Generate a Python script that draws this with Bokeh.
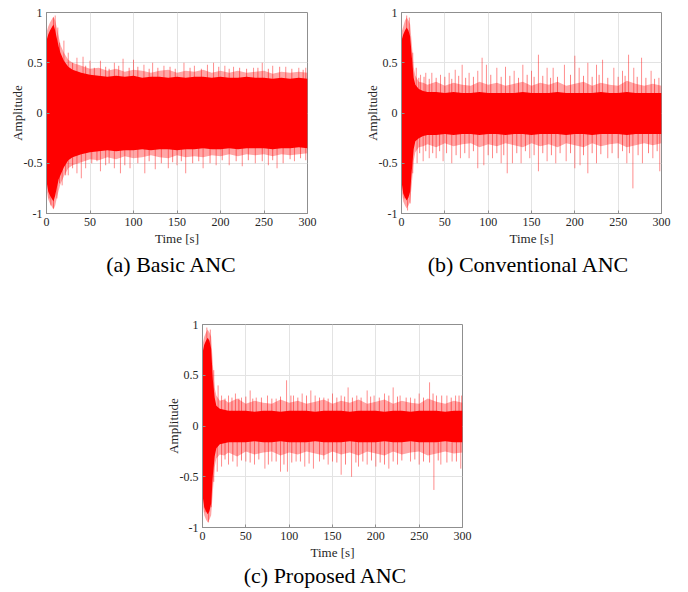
from bokeh.plotting import figure
from bokeh.layouts import column, row
from bokeh.models import Range1d, FixedTicker, Spacer, Div
from bokeh.embed import file_html
from bokeh.resources import INLINE

# ---------------- data ----------------
T = [0, 2, 4, 6, 8, 10, 12, 14, 16, 20, 25, 30, 40, 50, 60, 70, 80, 90, 100, 110,
     120, 130, 140, 150, 160, 170, 180, 190, 200, 210, 220, 230, 240, 250, 260, 270,
     280, 290, 300]

# (a) Basic ANC
a_core_hi = [0.72, 0.78, 0.82, 0.85, 0.88, 0.82, 0.74, 0.66, 0.60, 0.52, 0.46, 0.43, 0.40, 0.38, 0.37, 0.36, 0.37, 0.36, 0.37, 0.35,
             0.36, 0.36, 0.35, 0.36, 0.35, 0.36, 0.36, 0.35, 0.36, 0.35, 0.35, 0.36, 0.35, 0.35, 0.34, 0.35, 0.34, 0.35, 0.34]
a_core_lo = [-0.68, -0.78, -0.82, -0.85, -0.88, -0.82, -0.74, -0.66, -0.62, -0.54, -0.47, -0.44, -0.41, -0.39, -0.38, -0.37, -0.38, -0.37, -0.37, -0.36,
             -0.37, -0.36, -0.36, -0.37, -0.36, -0.36, -0.35, -0.36, -0.36, -0.35, -0.36, -0.35, -0.35, -0.35, -0.36, -0.35, -0.35, -0.34, -0.35]
a_frg_hi = [0.80, 0.86, 0.90, 0.93, 0.96, 0.92, 0.84, 0.76, 0.68, 0.60, 0.53, 0.50, 0.47, 0.44, 0.45, 0.42, 0.44, 0.41, 0.43, 0.42,
            0.40, 0.42, 0.43, 0.40, 0.42, 0.41, 0.43, 0.40, 0.42, 0.40, 0.42, 0.40, 0.41, 0.42, 0.39, 0.41, 0.40, 0.41, 0.40]
a_frg_lo = [-0.76, -0.86, -0.90, -0.93, -0.96, -0.92, -0.84, -0.77, -0.71, -0.63, -0.55, -0.52, -0.49, -0.46, -0.47, -0.44, -0.46, -0.43, -0.45, -0.44,
            -0.42, -0.44, -0.45, -0.42, -0.44, -0.43, -0.44, -0.42, -0.43, -0.41, -0.43, -0.41, -0.42, -0.41, -0.43, -0.41, -0.42, -0.41, -0.40]
a_spk_t = [8, 10, 13, 20, 25, 35, 42, 50, 62, 78, 88, 100, 112, 122, 135, 158, 170, 185, 192, 205, 215, 238, 248, 260, 275, 290, 298,
           3, 5, 8, 12, 18, 25, 35, 40, 45, 62, 78, 85, 96, 113, 125, 140, 150, 160, 180, 195, 210, 225, 240, 255, 265, 285, 298]
a_spk_v = [0.95, 0.97, 0.85, 0.72, 0.60, 0.55, 0.56, 0.52, 0.52, 0.50, 0.54, 0.53, 0.48, 0.50, 0.47, 0.50, 0.47, 0.48, 0.50, 0.47, 0.46, 0.45, 0.50, 0.47, 0.46, 0.45, 0.45,
           -0.85, -0.92, -0.95, -0.85, -0.72, -0.62, -0.60, -0.65, -0.55, -0.58, -0.55, -0.60, -0.55, -0.60, -0.56, -0.55, -0.52, -0.60, -0.55, -0.52, -0.52, -0.53, -0.50, -0.52, -0.55, -0.48, -0.47]
a_spk2_t = [15, 30, 45, 55, 68, 72, 83, 95, 105, 118, 128, 142, 148, 165, 178, 198, 210, 222, 230, 243, 255, 268, 282, 295,
            15, 22, 30, 52, 58, 68, 72, 90, 105, 118, 132, 145, 155, 168, 175, 188, 202, 218, 232, 248, 260, 272, 280, 292]
a_spk2_v = [0.70, 0.50, 0.47, 0.45, 0.46, 0.44, 0.47, 0.45, 0.46, 0.44, 0.45, 0.46, 0.44, 0.45, 0.44, 0.46, 0.44, 0.45, 0.44, 0.45, 0.44, 0.46, 0.44, 0.43,
            -0.70, -0.62, -0.55, -0.50, -0.48, -0.52, -0.50, -0.52, -0.50, -0.48, -0.50, -0.49, -0.48, -0.50, -0.48, -0.50, -0.47, -0.48, -0.47, -0.48, -0.47, -0.50, -0.46, -0.45]

# (b) Conventional ANC
b_core_hi = [0.72, 0.78, 0.82, 0.85, 0.82, 0.76, 0.55, 0.35, 0.28, 0.24, 0.22, 0.21, 0.21, 0.20, 0.21, 0.20, 0.20, 0.21, 0.20, 0.20,
             0.20, 0.20, 0.21, 0.20, 0.20, 0.20, 0.21, 0.20, 0.20, 0.20, 0.20, 0.21, 0.20, 0.20, 0.21, 0.20, 0.20, 0.20, 0.20]
b_core_lo = [-0.68, -0.80, -0.84, -0.87, -0.84, -0.78, -0.56, -0.36, -0.28, -0.25, -0.23, -0.22, -0.22, -0.21, -0.22, -0.21, -0.21, -0.22, -0.21, -0.21,
             -0.22, -0.21, -0.21, -0.22, -0.21, -0.21, -0.21, -0.22, -0.21, -0.21, -0.22, -0.21, -0.21, -0.21, -0.22, -0.21, -0.21, -0.21, -0.21]
b_frg_hi = [0.80, 0.86, 0.92, 0.95, 0.92, 0.88, 0.68, 0.46, 0.37, 0.31, 0.30, 0.28, 0.31, 0.27, 0.30, 0.28, 0.27, 0.31, 0.28, 0.30,
            0.27, 0.29, 0.31, 0.27, 0.30, 0.28, 0.31, 0.27, 0.29, 0.31, 0.27, 0.30, 0.28, 0.27, 0.32, 0.29, 0.27, 0.29, 0.27]
b_frg_lo = [-0.76, -0.88, -0.92, -0.95, -0.92, -0.88, -0.70, -0.48, -0.39, -0.34, -0.33, -0.31, -0.34, -0.30, -0.33, -0.31, -0.30, -0.34, -0.31, -0.33,
            -0.30, -0.32, -0.34, -0.30, -0.33, -0.31, -0.34, -0.30, -0.32, -0.34, -0.30, -0.33, -0.31, -0.30, -0.34, -0.32, -0.30, -0.32, -0.30]
b_spk_t = [6, 9, 13, 17, 22, 28, 35, 45, 55, 62, 70, 78, 88, 93, 98, 110, 120, 130, 140, 150, 158, 168, 175, 188, 200, 205, 215, 225, 232, 245, 255, 262, 268, 277, 288, 297,
           3, 7, 10, 13, 18, 25, 32, 40, 48, 58, 68, 78, 88, 95, 105, 115, 122, 128, 138, 148, 158, 168, 178, 190, 200, 206, 215, 225, 238, 250, 260, 267, 278, 290, 298]
b_spk_v = [0.97, 0.95, 0.60, 0.45, 0.38, 0.40, 0.40, 0.38, 0.40, 0.43, 0.48, 0.40, 0.42, 0.55, 0.48, 0.45, 0.46, 0.42, 0.48, 0.42, 0.58, 0.45, 0.45, 0.48, 0.57, 0.45, 0.50, 0.48, 0.53, 0.45, 0.42, 0.58, 0.45, 0.55, 0.42, 0.35,
           -0.85, -0.97, -0.90, -0.60, -0.50, -0.48, -0.45, -0.45, -0.48, -0.50, -0.45, -0.45, -0.55, -0.52, -0.45, -0.50, -0.60, -0.50, -0.50, -0.45, -0.58, -0.48, -0.50, -0.48, -0.55, -0.52, -0.60, -0.50, -0.45, -0.45, -0.50, -0.75, -0.50, -0.45, -0.58]
b_spk2_t = [20, 26, 32, 40, 50, 58, 66, 74, 83, 103, 115, 125, 135, 145, 153, 163, 172, 180, 195, 210, 220, 228, 238, 250, 258, 272, 282, 292,
            21, 28, 36, 44, 52, 63, 73, 83, 100, 110, 118, 133, 143, 153, 163, 173, 183, 195, 210, 220, 230, 243, 255, 263, 273, 285, 295]
b_spk2_v = [0.35, 0.36, 0.34, 0.35, 0.36, 0.34, 0.37, 0.35, 0.36, 0.38, 0.36, 0.37, 0.35, 0.38, 0.36, 0.37, 0.35, 0.36, 0.38, 0.37, 0.36, 0.38, 0.35, 0.36, 0.37, 0.36, 0.35, 0.34,
            -0.40, -0.38, -0.40, -0.38, -0.40, -0.42, -0.40, -0.38, -0.42, -0.40, -0.42, -0.40, -0.38, -0.42, -0.40, -0.42, -0.40, -0.40, -0.42, -0.40, -0.41, -0.40, -0.38, -0.40, -0.42, -0.40, -0.38]

# (c) Proposed ANC
c_core_hi = [0.72, 0.80, 0.84, 0.87, 0.84, 0.76, 0.45, 0.28, 0.20, 0.17, 0.16, 0.15, 0.15, 0.15, 0.14, 0.15, 0.15, 0.14, 0.15, 0.15,
             0.15, 0.14, 0.15, 0.15, 0.15, 0.14, 0.15, 0.15, 0.15, 0.14, 0.15, 0.15, 0.14, 0.15, 0.15, 0.15, 0.14, 0.15, 0.15]
c_core_lo = [-0.68, -0.80, -0.84, -0.87, -0.84, -0.76, -0.48, -0.30, -0.22, -0.18, -0.17, -0.16, -0.16, -0.16, -0.15, -0.16, -0.16, -0.15, -0.16, -0.16,
             -0.16, -0.15, -0.16, -0.16, -0.16, -0.15, -0.16, -0.16, -0.16, -0.15, -0.16, -0.16, -0.15, -0.16, -0.16, -0.16, -0.15, -0.16, -0.16]
c_frg_hi = [0.80, 0.88, 0.92, 0.95, 0.92, 0.88, 0.60, 0.38, 0.30, 0.25, 0.26, 0.23, 0.27, 0.22, 0.25, 0.23, 0.22, 0.26, 0.23, 0.25,
            0.22, 0.24, 0.26, 0.22, 0.25, 0.23, 0.26, 0.22, 0.24, 0.26, 0.22, 0.25, 0.23, 0.22, 0.27, 0.24, 0.22, 0.25, 0.23]
c_frg_lo = [-0.76, -0.88, -0.92, -0.95, -0.92, -0.88, -0.64, -0.41, -0.32, -0.28, -0.29, -0.26, -0.30, -0.25, -0.28, -0.26, -0.25, -0.29, -0.26, -0.28,
            -0.25, -0.27, -0.29, -0.25, -0.28, -0.26, -0.29, -0.25, -0.27, -0.29, -0.25, -0.28, -0.26, -0.25, -0.29, -0.27, -0.25, -0.27, -0.26]
c_spk_t = [5, 9, 13, 18, 22, 30, 38, 45, 55, 62, 75, 85, 97, 105, 115, 125, 130, 140, 150, 160, 168, 178, 190, 198, 210, 220, 228, 240, 250, 262, 270, 282, 292, 299,
           3, 7, 10, 13, 17, 22, 30, 40, 50, 60, 72, 80, 90, 98, 108, 118, 128, 135, 145, 160, 172, 180, 190, 200, 215, 225, 240, 250, 267, 275, 288, 298]
c_spk_v = [0.97, 0.95, 0.55, 0.40, 0.30, 0.30, 0.32, 0.28, 0.35, 0.28, 0.30, 0.27, 0.45, 0.30, 0.32, 0.35, 0.30, 0.28, 0.32, 0.30, 0.38, 0.30, 0.35, 0.30, 0.32, 0.38, 0.30, 0.28, 0.32, 0.43, 0.30, 0.30, 0.30, 0.30,
           -0.85, -0.95, -0.80, -0.55, -0.45, -0.40, -0.38, -0.40, -0.35, -0.38, -0.42, -0.35, -0.45, -0.45, -0.35, -0.40, -0.42, -0.35, -0.38, -0.48, -0.50, -0.40, -0.38, -0.40, -0.42, -0.38, -0.35, -0.38, -0.63, -0.38, -0.35, -0.42]
c_spk2_t = [26, 34, 42, 50, 58, 68, 80, 90, 102, 110, 120, 135, 145, 155, 164, 173, 183, 194, 204, 215, 225, 235, 245, 255, 266, 276, 287, 296,
            26, 35, 45, 55, 65, 76, 85, 94, 103, 113, 123, 140, 150, 155, 165, 177, 185, 195, 205, 210, 220, 230, 245, 255, 262, 272, 282, 293]
c_spk2_v = [0.27, 0.28, 0.27, 0.29, 0.27, 0.28, 0.27, 0.29, 0.30, 0.28, 0.30, 0.28, 0.27, 0.28, 0.29, 0.28, 0.28, 0.29, 0.28, 0.30, 0.29, 0.28, 0.27, 0.28, 0.32, 0.30, 0.28, 0.30,
            -0.33, -0.35, -0.34, -0.36, -0.33, -0.38, -0.35, -0.38, -0.36, -0.35, -0.37, -0.33, -0.35, -0.36, -0.38, -0.36, -0.35, -0.34, -0.36, -0.38, -0.35, -0.34, -0.33, -0.35, -0.36, -0.34, -0.36, -0.35]

captions = ["(a) Basic ANC", "(b) Conventional ANC", "(c) Proposed ANC"]
x_ticks = [0, 50, 100, 150, 200, 250, 300]
y_ticks = [-1, -0.5, 0, 0.5, 1]
y_tick_labels = {-1: "-1", -0.5: "-0.5", 0: "0", 0.5: "0.5", 1: "1"}

RED = "#ff0000"
SERIF = "'Liberation Serif', 'Times New Roman', serif"
AX = "#8f8f8f"
TXT = "#262626"


def panel(core_hi, core_lo, frg_hi, frg_lo, spk_t, spk_v, spk2_t, spk2_v,
          bl, br, bt, bb, fw, fh):
    p = figure(frame_width=fw, frame_height=fh,
               min_border_left=bl, min_border_right=br,
               min_border_top=bt, min_border_bottom=bb,
               x_range=Range1d(0, 300), y_range=Range1d(-1, 1),
               output_backend="svg", toolbar_location=None)
    p.varea(x=T, y1=frg_lo, y2=frg_hi, fill_color=RED, fill_alpha=0.35)
    p.segment(x0=spk2_t, y0=[0] * len(spk2_t), x1=spk2_t, y1=spk2_v,
              line_color=RED, line_alpha=0.5, line_width=1)
    p.segment(x0=spk_t, y0=[0] * len(spk_t), x1=spk_t, y1=spk_v,
              line_color=RED, line_alpha=0.45, line_width=1)
    p.varea(x=T, y1=core_lo, y2=core_hi, fill_color=RED, fill_alpha=1.0)

    p.xaxis.ticker = FixedTicker(ticks=x_ticks)
    p.yaxis.ticker = FixedTicker(ticks=y_ticks)
    p.yaxis.major_label_overrides = y_tick_labels
    p.xaxis.axis_label = "Time [s]"
    p.yaxis.axis_label = "Amplitude"
    for ax in (p.xaxis[0], p.yaxis[0]):
        ax.axis_line_color = AX
        ax.major_tick_line_color = AX
        ax.major_tick_in = 3
        ax.major_tick_out = 0
        ax.minor_tick_line_color = None
        ax.major_label_text_font = SERIF
        ax.major_label_text_font_size = "12px"
        ax.major_label_text_color = TXT
        ax.axis_label_text_font = SERIF
        ax.axis_label_text_font_size = "13px"
        ax.axis_label_text_font_style = "normal"
        ax.axis_label_text_color = TXT
        ax.major_label_standoff = 4
    p.yaxis.axis_label_standoff = -4
    p.xaxis.axis_label_standoff = 2
    p.grid.grid_line_color = "#e3e3e3"
    p.outline_line_color = AX
    p.background_fill_color = "white"
    p.border_fill_color = "white"
    return p


def caption(text, width, height, left):
    html = ('<div style="font-family: \'Liberation Serif\', \'Times New Roman\', serif; '
            f'font-size: 22px; color: black; text-align: center; line-height: {height}px; '
            f'white-space: nowrap; width: {width}px;">{text}</div>')
    return Div(text=html, width=width, height=height, margin=(0, 0, 0, left))


pa = panel(a_core_hi, a_core_lo, a_frg_hi, a_frg_lo, a_spk_t, a_spk_v, a_spk2_t, a_spk2_v,
           46, 50, 12, 38, 261, 201)
pb = panel(b_core_hi, b_core_lo, b_frg_hi, b_frg_lo, b_spk_t, b_spk_v, b_spk2_t, b_spk2_v,
           44, 16, 12, 38, 260, 201)
pc = panel(c_core_hi, c_core_lo, c_frg_hi, c_frg_lo, c_spk_t, c_spk_v, c_spk2_t, c_spk2_v,
           40, 40, 45, 36, 260, 203)

col_a = column(pa, caption(captions[0], 342, 28, 0))
col_b = column(pb, caption(captions[1], 298, 28, 22))
col_c = column(pc, caption(captions[2], 326, 26, 0))

layout = column(row(col_a, col_b), row(Spacer(width=162, height=10), col_c))
open("out.html", "w").write(file_html(layout, INLINE))
